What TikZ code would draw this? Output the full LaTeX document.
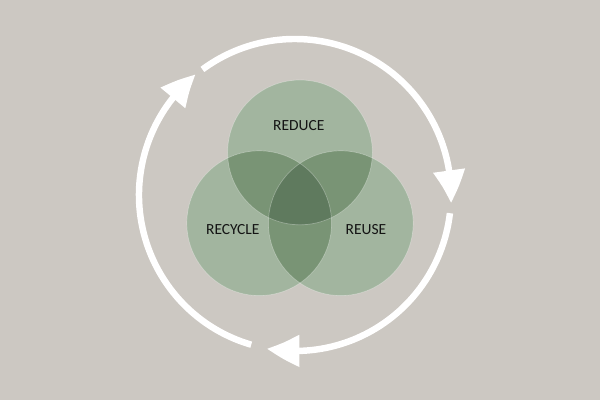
\documentclass[tikz,border=0pt]{standalone}
\usepackage{fontspec}
\setmainfont{Carlito}
\usetikzlibrary{arrows.meta, bending}
\definecolor{fond}{RGB}{204,200,194}
\definecolor{vertclair}{RGB}{162,181,159}
\definecolor{vertmoyen}{RGB}{121,148,117}
\definecolor{vertfonce}{RGB}{95,122,94}
\definecolor{texte}{RGB}{20,20,20}

\begin{document}
\begin{tikzpicture}[
    fleche/.style={white, line width=4.6pt, -{Triangle[length=0.82cm, width=0.76cm, bend]}},
    etiquette/.style={text=texte, font=\fontsize{11}{13}\selectfont}
]
    % Fond
    \fill[fond] (0,0) rectangle (15,10);
    \useasboundingbox (0,0) rectangle (15,10);

    % Centres
    \coordinate (reduce) at (7.5,6.19);
    \coordinate (recycle) at (6.48,4.42);
    \coordinate (reuse) at (8.52,4.42);
    \coordinate (centre) at (7.375,5.125);
    \def\rayon{1.81}

    % Cercles
    \fill[vertclair] (reduce) circle (\rayon);
    \fill[vertclair] (recycle) circle (\rayon);
    \fill[vertclair] (reuse) circle (\rayon);

    % Intersections deux a deux
    \begin{scope}
        \clip (reduce) circle (\rayon);
        \fill[vertmoyen] (recycle) circle (\rayon);
        \fill[vertmoyen] (reuse) circle (\rayon);
    \end{scope}
    \begin{scope}
        \clip (recycle) circle (\rayon);
        \fill[vertmoyen] (reuse) circle (\rayon);
    \end{scope}

    % Centre commun
    \begin{scope}
        \clip (reduce) circle (\rayon);
        \clip (recycle) circle (\rayon);
        \fill[vertfonce] (reuse) circle (\rayon);
    \end{scope}

    % Contours
    \foreach \cercle in {reduce, recycle, reuse}
        \draw[white, opacity=0.3, line width=0.5pt] (\cercle) circle (\rayon);

    % Textes
    \node[etiquette] (txtreduce) at (7.47,6.86) {REDUCE};
    \node[etiquette] (txtrecycle) at (5.82,4.25) {RECYCLE};
    \node[etiquette] (txtreuse) at (9.15,4.25) {REUSE};

    % Fleches du cycle
    \draw[fleche] ([shift={(126.4:3.9)}]centre) arc[start angle=126.4, end angle=-3, radius=3.9];
    \draw[fleche] ([shift={(-6.7:3.9)}]centre) arc[start angle=-6.7, end angle=-100.4, radius=3.9];
    \draw[fleche] ([shift={(-106.3:3.9)}]centre) arc[start angle=-106.3, end angle=-230.5, radius=3.9];
\end{tikzpicture}
\end{document}
